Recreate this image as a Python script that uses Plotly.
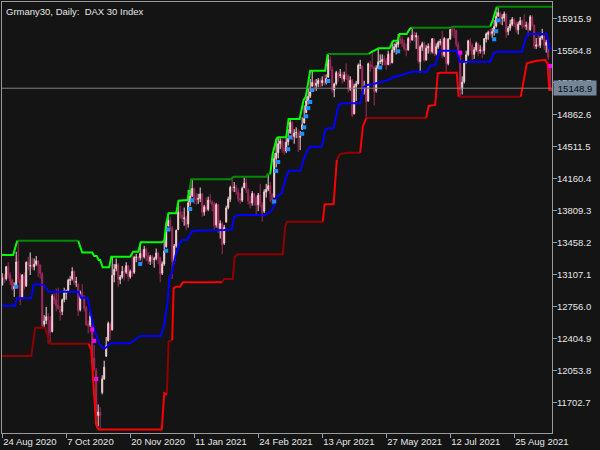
import plotly.graph_objects as go

# ---------------- data (bar index = trading day from 24 Aug 2020) ----------------
OPEN = [
12990,13070,13060,13190,13100,13040,12950,12980,13250,13050,
12860,13090,12980,13240,13200,13210,13190,13220,13250,13210,
13110,12560,12600,12640,12600,12480,12860,12830,12770,12720,
12700,12830,12900,12930,13040,13060,13140,13020,13000,12720,
12910,12850,12740,12560,12550,12540,12190,12050,11560,11590,
11810,11960,12210,12380,12560,12500,13100,13170,13210,13050,
13080,13140,13130,13200,13080,13140,13130,13290,13290,13290,
13330,13300,13380,13310,13250,13300,13270,13280,13340,13290,
13120,13220,13410,13640,13700,13620,13250,13420,13600,13790,
13760,13720,13720,13660,13900,13970,14040,13940,13930,13940,
13990,13790,13850,13820,13920,13900,13880,13650,13870,13610,
13660,13450,13680,13840,13930,14060,14060,14060,14010,13940,
13920,14060,14110,14030,13910,13890,13990,13950,13870,13980,
13870,13800,14010,14040,14080,13980,13960,14380,14440,14540,
14570,14500,14460,14560,14660,14770,14620,14660,14660,14610,
14700,14770,14880,15010,15060,15170,15210,15180,15200,15230,
15210,15230,15210,15270,15460,15360,15130,15200,15310,15290,
15300,15250,15300,15280,15140,15230,14870,15170,15200,15400,
15390,15120,15150,15010,15410,15400,15380,15120,15370,15440,
15440,15470,15450,15410,15520,15430,15570,15600,15630,15690,
15680,15640,15580,15570,15690,15680,15730,15710,15720,15440,
15600,15640,15460,15590,15610,15550,15690,15530,15600,15650,
15660,15510,15690,15420,15690,15790,15790,15780,15630,15540,
15140,15220,15430,15520,15660,15620,15520,15570,15640,15560,
15570,15560,15690,15740,15760,15750,15770,15830,15940,15970,
15920,15920,15960,15770,15810,15850,15900,15860,15790,15850,
15890,15840,15830,15840,15790,15930,15840,15610,15630,15620,
15700,15720,15620,15650,15400]
HIGH = [
13120,13110,13200,13240,13130,13060,13020,13355,13476,13120,
13110,13130,13250,13300,13347,13290,13280,13308,13265,13215,
13130,12660,12750,12680,12650,12890,12900,12950,12960,12760,
12840,12960,12940,13060,13090,13185,13150,13080,13010,12930,
13000,12880,12760,12600,12700,12560,12330,12080,11680,11650,
12000,12160,12420,12590,12580,13301,13220,13280,13230,13100,
13200,13180,13240,13210,13160,13356,13310,13330,13310,13459,
13380,13420,13400,13350,13320,13320,13300,13390,13350,13300,
13250,13473,13667,13777,13740,13640,13440,13600,13915,13860,
13800,13840,13750,14032,14080,14150,14060,14000,13990,14060,
14000,13870,13950,13960,13990,13920,13900,13890,13880,13700,
13680,13650,13860,13960,14080,14178,14120,14090,14050,14000,
14070,14170,14160,14050,13970,14020,14000,13970,14000,14100,
13900,14040,14100,14205,14120,14000,14435,14600,14611,14600,
14590,14560,14600,14700,14811,14790,14700,14720,14700,14680,
14830,14960,15056,15150,15250,15341,15240,15250,15260,15260,
15280,15300,15300,15524,15500,15390,15210,15340,15330,15360,
15330,15330,15420,15300,15280,15250,15200,15230,15420,15460,
15400,15230,15160,15430,15450,15549,15390,15400,15587,15520,
15520,15510,15480,15560,15540,15670,15640,15660,15744,15730,
15720,15680,15640,15710,15740,15813,15770,15760,15730,15620,
15660,15660,15620,15640,15650,15700,15700,15640,15670,15690,
15780,15710,15700,15700,15800,15824,15810,15790,15660,15560,
15280,15440,15560,15680,15700,15640,15600,15660,15650,15620,
15600,15700,15760,15780,15800,15810,15897,15990,16043,15990,
15960,15990,15970,15830,15900,15930,15920,15880,15880,15930,
15900,15960,15880,15870,15950,15950,15850,15700,15760,15720,
15800,15730,15680,15690,15420]
LOW = [
12985,13010,13040,13060,12990,12930,12860,12965,13010,12770,
12850,12940,12970,13150,13100,13160,13150,13200,13080,13060,
12530,12530,12560,12346,12360,12470,12780,12700,12720,12600,
12660,12800,12830,12920,12990,13040,12990,12970,12650,12700,
12840,12700,12540,12460,12530,12150,12040,11520,11440,11405,
11790,11950,12200,12370,12387,12490,13020,13140,12972,13000,
13060,13040,13110,13030,13060,13080,13110,13240,13250,13260,
13230,13280,13250,13220,13210,13220,13180,13260,13220,13020,
13100,13200,13400,13630,13580,13056,13220,13400,13590,13720,
13680,13640,13590,13620,13860,13955,13880,13870,13880,13900,
13740,13750,13800,13800,13880,13800,13600,13620,13560,13500,
13327,13430,13678,13820,13900,14020,14010,13980,13900,13880,
13900,14050,14000,13870,13830,13860,13860,13760,13800,13840,
13685,13780,13950,14020,13900,13875,13946,14280,14380,14480,
14440,14420,14440,14520,14650,14580,14540,14600,14450,14470,
14690,14760,14880,14970,15040,15170,15120,15120,15160,15160,
15170,15180,15190,15268,15340,15100,15050,15180,15220,15260,
15200,15220,15240,15100,15120,14830,14860,15010,15190,15360,
15070,15080,14822,15000,15330,15360,14960,15100,15360,15415,
15400,15400,15350,15400,15400,15420,15540,15520,15595,15630,
15600,15560,15500,15560,15640,15670,15660,15580,15420,15319,
15560,15440,15450,15530,15520,15530,15500,15510,15580,15620,
15480,15490,15330,15400,15680,15720,15700,15600,15500,15056,
15080,15200,15422,15500,15560,15460,15470,15550,15500,15530,
15480,15520,15650,15680,15720,15700,15726,15814,15934,15850,
15840,15880,15700,15730,15780,15830,15820,15760,15740,15840,
15800,15810,15790,15720,15780,15820,15580,15580,15600,15590,
15680,15570,15540,15460,15129]
CLOSE = [
13066,13062,13190,13096,13033,12945,12974,13243,13057,12842,
13100,12968,13237,13209,13202,13194,13218,13255,13208,13116,
12542,12594,12643,12606,12469,12871,12826,12761,12731,12689,
12828,12906,12928,13042,13051,13138,13018,13028,12704,12909,
12854,12736,12558,12543,12646,12178,12063,11561,11598,11556,
11960,12089,12324,12568,12480,13096,13163,13216,13053,13077,
13139,13133,13202,13086,13137,13127,13292,13295,13286,13336,
13291,13382,13313,13252,13299,13271,13278,13340,13296,13114,
13223,13362,13620,13700,13631,13246,13418,13587,13790,13761,
13719,13726,13651,13892,13968,14050,13937,13925,13940,13989,
13788,13848,13815,13921,13906,13874,13644,13871,13620,13665,
13433,13622,13835,13933,14060,14057,14065,14012,13933,13921,
14050,14109,14034,13909,13887,13993,13950,13865,13976,13879,
13786,14012,14039,14080,13990,13921,14380,14437,14540,14569,
14502,14461,14557,14597,14775,14621,14657,14662,14611,14621,
14749,14818,15008,15060,15107,15212,15177,15203,15234,15216,
15234,15209,15255,15460,15368,15129,15195,15320,15280,15296,
15249,15292,15290,15136,15236,14856,15171,15197,15400,15405,
15120,15150,15000,15417,15397,15386,15114,15370,15438,15445,
15465,15450,15406,15520,15421,15568,15603,15632,15693,15677,
15640,15581,15571,15693,15674,15730,15711,15728,15448,15603,
15636,15456,15589,15608,15554,15691,15531,15604,15650,15662,
15511,15693,15420,15688,15791,15785,15789,15630,15540,15133,
15216,15422,15515,15669,15618,15519,15571,15640,15544,15568,
15555,15692,15744,15761,15745,15770,15826,15937,15977,15925,
15922,15965,15766,15808,15852,15905,15860,15794,15852,15888,
15835,15824,15840,15781,15932,15844,15610,15623,15609,15701,
15723,15616,15651,15490,15148.9]

# channel lines (vertices: bar index, price) and tone of segment ending at vertex
GREEN_I = [-1, 5.5, 7.5, 38, 40, 45, 46, 47.3, 48.2, 49, 50.2, 53.5, 54.5, 64, 65.5, 68, 69.3, 79.8, 81, 82,
           83.2, 87, 88.2, 92.7, 93.7, 94.5, 114.5, 115.7, 132, 132.7, 134, 135.3, 137.3, 138.2, 142, 143.2,
           148.7, 150.7, 151.8, 154, 161.5, 162.7, 183.2, 184.8, 188.2, 193.7, 194.8, 195.7, 197.7, 198.7,
           202.3, 203.7, 204.8, 224.5, 225.5, 244, 245.3, 247.3, 275.5]
GREEN_P = [13319, 13319, 13476, 13476, 13347, 13347, 13308, 13308, 13265, 13265, 13185, 13185, 13301, 13301,
           13356, 13356, 13459, 13459, 13473, 13667, 13777, 13777, 13915, 13923, 14032, 14150, 14150, 14178,
           14178, 14205, 14205, 14435, 14600, 14611, 14611, 14811, 14811, 15020, 15056, 15341, 15341, 15524,
           15524, 15549, 15587, 15587, 15642, 15670, 15670, 15744, 15744, 15799, 15813, 15813, 15824, 15824,
           15897, 16043, 16043]
GREEN_TONE = ".bbdbbbbbb" "bbbbbbbbbb" "bbbbbddddd" "dbbbbbbbbb" "bbdbbbbbbb" "bbbdddbbd"

RED_I = [-1, 14.5, 16.5, 21.5, 23.7, 43.2, 44.5, 45.7, 47, 48.2, 79.8, 81, 82.3, 83.2, 85, 85.7, 87, 89, 90.3,
         109.8, 111, 115.3, 116.2, 117.7, 140.3, 141.5, 142.3, 143.2, 160.3, 161.2, 165.7, 167.3, 168.7, 172.3,
         179, 180.3, 182, 212, 213.2, 216.5, 217.8, 219, 227.3, 228.2, 259.3, 261, 262.3, 267.3, 271.5, 272.7,
         273.5, 275.5]
RED_P = [12211, 12211, 12522, 12522, 12346, 12346, 12277, 11875, 11454, 11405, 11405, 11802, 11784, 12368,
         12387, 12954, 12972, 12972, 13020, 13020, 13056, 13056, 13301, 13327, 13327, 13630, 13678, 13685,
         13685, 13875, 13875, 14361, 14424, 14442, 14442, 14727, 14822, 14822, 14954, 14965, 15313, 15319,
         15319, 15056, 15056, 15275, 15422, 15451, 15458, 15422, 15129, 15129]
RED_TONE = ".dddddbbbb" "bbbddbbbbb" "dddddddddb" "bbdddbbdbb" "bbbbdbbbbb" "bb"

BLUE_I = [-1, 6.5, 7.3, 14.5, 15.7, 16.8, 20.7, 23.2, 38.2, 39.3, 42.7, 44, 46, 49, 50.7, 51.5, 54.3, 64, 65.7,
          69, 79.3, 81, 82.7, 83.7, 84.8, 86.5, 88.7, 90, 92.3, 94.8, 96.5, 109.8, 111, 114.8, 116, 117.7, 131.5,
          132.7, 134, 135.7, 137.3, 139.8, 141.5, 143.2, 149, 150.7, 152.3, 154, 159.8, 161.5, 163.2, 165.7,
          168.2, 169.8, 179, 180.7, 182.3, 185.7, 188.2, 194, 195.7, 198.2, 203.2, 204.8, 212.3, 214, 216.5,
          218.7, 227.3, 228.7, 244, 245.7, 247.3, 259.8, 261.5, 262.7, 272.3, 273.5, 275.5]
BLUE_P = [12763, 12763, 12844, 12844, 12990, 13001, 12990, 12917, 12917, 12851, 12851, 12716, 12497, 12332,
          12296, 12296, 12351, 12351, 12376, 12431, 12431, 12551, 12807, 13081, 13119, 13301, 13448, 13484,
          13484, 13575, 13586, 13586, 13594, 13601, 13740, 13758, 13758, 13777, 13794, 13849, 13959, 13996,
          14142, 14244, 14244, 14361, 14453, 14507, 14507, 14691, 14709, 14709, 14965, 14983, 14983, 15159,
          15184, 15195, 15210, 15247, 15275, 15283, 15319, 15330, 15330, 15393, 15404, 15560, 15560, 15440,
          15440, 15532, 15549, 15549, 15678, 15744, 15744, 15587, 15587]

# signal dots
BUY_I = [7, 69, 82, 83, 94, 95, 136, 137, 138, 143, 144, 150, 151, 152, 153, 154, 155, 163, 189, 198, 246, 247, 248]
BUY_P = [12971, 13221, 13366, 13599, 13824, 13919, 13906, 14241, 14339, 14480, 14610, 14649, 14720, 14841,
         14932, 14998, 15129, 15228, 15376, 15554, 15686, 15774, 15894]
SELL_I = [45, 46, 47, 229, 274]
SELL_P = [12502, 12378, 11959, 15539, 15393]

Y_TICKS = [11702.7, 12053.8, 12404.9, 12756.0, 13107.1, 13458.2, 13809.3, 14160.4, 14511.5, 14862.6,
           15213.7, 15564.8, 15915.9]
X_TICK_I = [0, 32, 64, 96, 128, 160, 192, 224, 256]
X_TICK_TEXT = ["24 Aug 2020", "7 Oct 2020", "20 Nov 2020", "11 Jan 2021", "24 Feb 2021", "13 Apr 2021",
               "27 May 2021", "12 Jul 2021", "25 Aug 2021"]
TITLE = "Grmany30, Daily:&nbsp; DAX 30 Index"

# ---------------- style ----------------
BG = "#141414"
AXIS = "#9a9a9a"
TXT = "#e6e6e6"
FONT = "Liberation Sans"
FS = 9.5
BULL = "#f5d2d5"
BEAR = "#a32a5e"

fig = go.Figure()
X = list(range(len(CLOSE)))
fig.add_trace(go.Candlestick(
    x=X, open=OPEN, high=HIGH, low=LOW, close=CLOSE,
    increasing=dict(line=dict(color=BULL, width=1), fillcolor=BULL),
    decreasing=dict(line=dict(color=BEAR, width=1), fillcolor=BEAR),
    whiskerwidth=0, hoverinfo="skip", showlegend=False))


def add_toned(xs, ys, tones, colors, width):
    assert len(xs) == len(ys) == len(tones)
    parts = {}
    for k in range(1, len(xs)):
        t = tones[k]
        px, py = parts.setdefault(t, ([], []))
        if px and px[-1] == xs[k - 1] and py[-1] == ys[k - 1]:
            px.append(xs[k]); py.append(ys[k])
        else:
            if px:
                px.append(None); py.append(None)
            px.extend([xs[k - 1], xs[k]]); py.extend([ys[k - 1], ys[k]])
    for t, (px, py) in parts.items():
        fig.add_trace(go.Scatter(x=px, y=py, mode="lines", line=dict(color=colors[t], width=width),
                                 hoverinfo="skip", showlegend=False, connectgaps=False))


fig.add_trace(go.Scatter(x=BLUE_I, y=BLUE_P, mode="lines", line=dict(color="#0000ff", width=2),
                         hoverinfo="skip", showlegend=False))
add_toned(RED_I, RED_P, RED_TONE, {"b": "#ff0000", "d": "#900000"}, 2)
add_toned(GREEN_I, GREEN_P, GREEN_TONE, {"b": "#00ff00", "d": "#008a00"}, 2)

fig.add_trace(go.Scatter(x=BUY_I, y=BUY_P, mode="markers",
                         marker=dict(symbol="square", size=4, color="#1e90ff", line=dict(width=0)),
                         hoverinfo="skip", showlegend=False))
fig.add_trace(go.Scatter(x=SELL_I, y=SELL_P, mode="markers",
                         marker=dict(symbol="square", size=4, color="#ff00ff", line=dict(width=0)),
                         hoverinfo="skip", showlegend=False))

last = CLOSE[-1]
fig.add_shape(type="line", xref="paper", x0=0, x1=1, yref="y", y0=last, y1=last,
              line=dict(color="#808080", width=1))
fig.add_annotation(xref="paper", x=1, xanchor="left", xshift=1, yref="y", y=last, yanchor="middle",
                   text=f"{last:.1f}", showarrow=False, bgcolor="#74869b", width=40, height=12,
                   font=dict(family=FONT, size=FS, color="#0b0b0b"), borderpad=1)
fig.add_annotation(xref="paper", x=0, y=1, yref="paper", xanchor="left", yanchor="top",
                   xshift=2, yshift=-2, text=TITLE, showarrow=False,
                   font=dict(family=FONT, size=FS, color=TXT))

fig.update_layout(
    width=600, height=450, margin=dict(l=2, r=48, t=2, b=17, autoexpand=False),
    paper_bgcolor=BG, plot_bgcolor=BG, showlegend=False,
    xaxis=dict(range=[-0.1, 274.9], tickvals=X_TICK_I, ticktext=X_TICK_TEXT, ticks="outside",
               ticklen=4, tickcolor=AXIS, showline=True, linecolor=AXIS, linewidth=1, mirror=True,
               showgrid=False, zeroline=False, rangeslider=dict(visible=False),
               ticklabelposition="outside right", tickangle=0, automargin=False,
               tickfont=dict(family=FONT, size=FS, color=TXT)),
    yaxis=dict(side="right", range=[11366.7, 16094.8], tickvals=Y_TICKS,
               ticktext=[f"{v:.1f}" for v in Y_TICKS], ticks="outside", ticklen=4, tickcolor=AXIS,
               showline=True, linecolor=AXIS, linewidth=1, mirror=True, showgrid=False, zeroline=False,
               automargin=False, ticklabelstandoff=-2,
               tickfont=dict(family=FONT, size=FS, color=TXT)),
)

fig.write_html("out.html", config={"displayModeBar": False},
               post_script="document.body.style.margin='0';document.body.style.background='#141414';")
